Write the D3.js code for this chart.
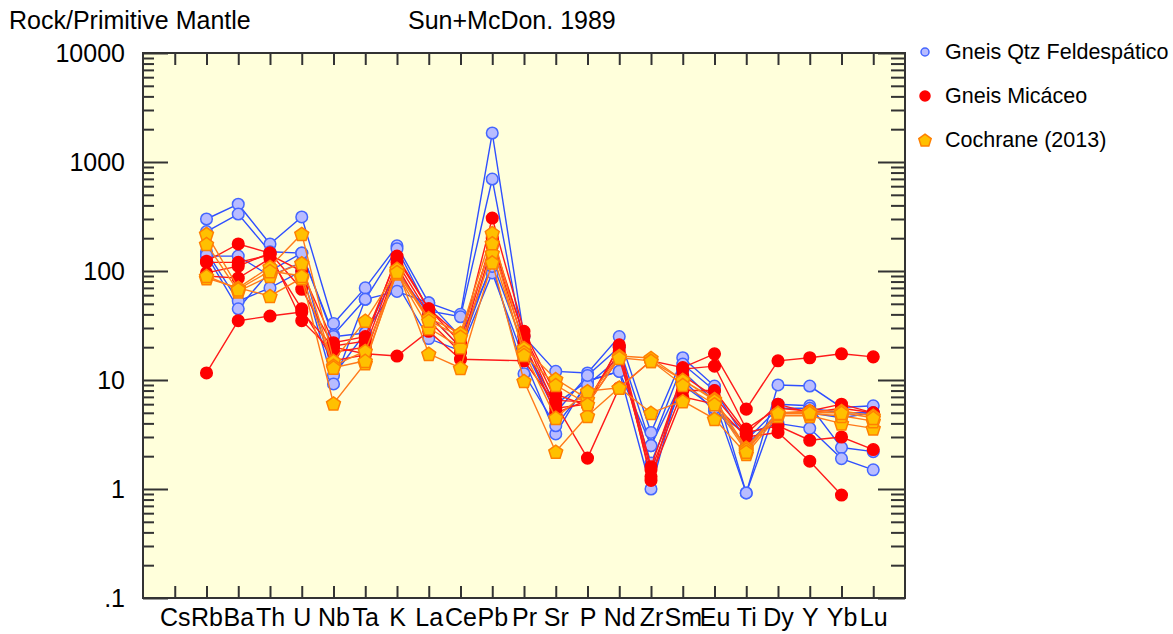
<!DOCTYPE html>
<html>
<head>
<meta charset="utf-8">
<script src="https://cdn.jsdelivr.net/npm/d3@7"></script>
<style>
  body { margin: 0; background: #fff; }
  text { font-family: "Liberation Sans", Arial, sans-serif; fill: #000; }
</style>
</head>
<body>
<svg id="chart" width="1173" height="634"></svg>
<script>
// element order of the spider diagram (Cs has no data)
var elements = ["Cs","Rb","Ba","Th","U","Nb","Ta","K","La","Ce","Pb","Pr","Sr","P","Nd","Zr","Sm","Eu","Ti","Dy","Y","Yb","Lu"];
var yTickValues = [0.1, 1, 10, 100, 1000, 10000];
var yTickLabels = [".1", "1", "10", "100", "1000", "10000"];

// Gneis Qtz Feldespático
var gneisQtz = [
  [null, 300, 410, 177, 313, 33, 70, 170, 51, 40, 1845, 25, 12, 11.6, 25, 3.3, 16, 8.8, 0.92, 9, 8.8, 5.6, 5.8],
  [null, 230, 333, 150, 146, 26, 55, 160, 43, 38, 698, 20, 6, 9.8, 12, 1.0, 12, 6.4, 0.92, 6, 5.8, 2.4, 2.2],
  [null, 137, 137, 90, 120, 11, 27, 76, 24, 18.5, 96, 15.5, 3.2, 9.8, 12, 2.5, 10, 5.2, 3.2, 4.0, 3.6, 1.9, 1.5],
  [null, 150, 53, 70, 100, 9.2, 55, 65, 51, 25, 110, 11.4, 3.8, 9, 16, 1.73, 9, 5.5, 2.5, 5, 5, 4.5, 5],
  [null, 140, 45, 100, 146, 25, 27, 100, 40, 20, 120, 20, 5, 11, 20, 2.5, 14, 8, 2.8, 5.5, 5.5, 5, 5]
];

// Gneis Micáceo
var gneisMic = [
  [null, 11.6, 35, 38.6, 42, 20, 17.4, 16.6, 28, 15.5, null, 15, 6, 1.92, 8.5, 15, 13, 17.4, 5.4, 15, 16, 17.4, 16.3],
  [null, 123, 177, 146, 68, 20.5, 22.7, 137, 45, 22, 306, 28, 7.4, 5.8, 21, 1.2, 12.6, 13.4, 3.55, 5.5, 5.2, 6, 5],
  [null, 96, 111, 146, 35, 18, 20, 120, 40, 20, 200, 25, 5.5, 6, 16, 1.5, 8, 8, 3.3, 3.8, 2.8, 3.0, 2.3],
  [null, 90, 86, 130, 45, 15, 17, 110, 35, 18, 170, 22, 5, 6.5, 18, 1.3, 7, 6, 3.0, 3.3, 1.8, 0.88, null],
  [null, 120, 120, 140, 100, 22, 25, 130, 45, 25, 180, 26, 6.5, 6.3, 20, 1.6, 11, 7, 3.2, 6, 5, 5.5, 5]
];

// Cochrane (2013)
var cochrane = [
  [null, 219, 70, 109, 219, 15, 35, 100, 37, 27, 223, 19.7, 10.2, 6.7, 16.6, 15.9, 10, 6.7, 2.4, 5, 5.2, 5.2, 4.7],
  [null, 177, 65, 90, 118, 13.5, 18.5, 95, 30, 20, 146, 18, 4.5, 7.9, 8.5, 5.0, 6.4, 4.4, 2.1, 4.7, 4.7, 4.0, 3.6],
  [null, 86, 70, 59, 86, 6.1, 14.3, 105, 17.4, 12.9, 120, 9.8, 2.2, 4.7, 8.5, 15, 10, 6.5, 2.3, 4.9, 4.9, 4.7, 4.2],
  [null, 90, 68, 100, 90, 13, 15, 98, 35, 25, 180, 17, 9, 6, 16, 15, 9, 6, 2.2, 5, 5, 5, 4.5]
];

var seriesNames = ["Gneis Qtz Feldespático", "Gneis Micáceo", "Cochrane (2013)"];

var svg = d3.select("#chart");
var plotLeft = 143, plotRight = 905, plotTop = 53, plotBottom = 598;

var x = d3.scalePoint().domain(elements).range([plotLeft, plotRight]).padding(1);
var y = d3.scaleLog().domain([0.1, 10000]).range([plotBottom, plotTop]);

var styles = [
  {line: "#2f4fff", fill: "#b8bcff", stroke: "#4466ff", shape: "circle"},
  {line: "#ff1a1a", fill: "#ff0000", stroke: "#ff0000", shape: "circle"},
  {line: "#ff7a1a", fill: "#ffc000", stroke: "#ff8000", shape: "pentagon"}
];

// plot background
svg.append("rect")
  .attr("x", plotLeft).attr("y", plotTop)
  .attr("width", plotRight - plotLeft).attr("height", plotBottom - plotTop)
  .style("fill", "#ffffdb");

// titles
svg.append("text").attr("x", 9).attr("y", 29).style("font-size", "25px").text("Rock/Primitive Mantle");
svg.append("text").attr("x", 408).attr("y", 29).style("font-size", "25px").text("Sun+McDon. 1989");

/*
pentagon path centred at 0,0 with radius r
*/
function pentagon(r){
  var pts = d3.range(5).map(function(i){
    var a = -Math.PI/2 + i*2*Math.PI/5;
    return [r*Math.cos(a), r*Math.sin(a) + r*0.1];
  });
  return "M" + pts.join("L") + "Z";
}

function drawMarker(g, style, cx, cy, r){
  if(style.shape == "circle"){
    g.append("circle").attr("cx", cx).attr("cy", cy).attr("r", r)
      .style("fill", style.fill).style("stroke", style.stroke).style("stroke-width", 1.5);
  } else {
    g.append("path").attr("d", pentagon(r + 1.5))
      .attr("transform", "translate(" + cx + "," + cy + ")")
      .style("fill", style.fill).style("stroke", style.stroke).style("stroke-width", 1.5);
  }
}

var line = d3.line()
  .x(function(d){ return x(d.el); })
  .y(function(d){ return y(d.v); });

var plot = svg.append("g");
[gneisQtz, gneisMic, cochrane].forEach(function(samples, si){
  var st = styles[si];
  samples.forEach(function(vals){
    var pts = vals.map(function(v, i){ return {el: elements[i], v: v}; })
      .filter(function(d){ return d.v != null; });
    plot.append("path").attr("d", line(pts))
      .style("fill", "none").style("stroke", st.line).style("stroke-width", 1.4);
  });
  samples.forEach(function(vals){
    vals.forEach(function(v, i){
      if(v == null) return;
      drawMarker(plot, st, x(elements[i]), y(v), 5.8);
    });
  });
});

// ticks on all four sides, pointing inwards
var minor = y.ticks().filter(function(t){ return yTickValues.indexOf(t) < 0; });
var axisColor = "#333";

svg.append("g").attr("transform", "translate(0," + plotTop + ")")
  .call(d3.axisBottom(x).tickSize(12).tickFormat(""));
svg.append("g").attr("transform", "translate(0," + plotBottom + ")")
  .call(d3.axisTop(x).tickSize(12).tickFormat(""));
svg.append("g").attr("transform", "translate(0," + plotBottom + ")")
  .call(d3.axisBottom(x).tickSize(0).tickPadding(10))
  .call(function(g){ g.select(".domain").remove(); })
  .selectAll("text").style("font-size", "25px").attr("fill", "#000");

svg.append("g").attr("transform", "translate(" + plotLeft + ",0)")
  .call(d3.axisRight(y).tickValues(yTickValues).tickSize(25).tickFormat(""));
svg.append("g").attr("transform", "translate(" + plotLeft + ",0)")
  .call(d3.axisRight(y).tickValues(minor).tickSize(11).tickFormat(""));
svg.append("g").attr("transform", "translate(" + plotRight + ",0)")
  .call(d3.axisLeft(y).tickValues(yTickValues).tickSize(27).tickFormat(""));
svg.append("g").attr("transform", "translate(" + plotRight + ",0)")
  .call(d3.axisLeft(y).tickValues(minor).tickSize(14).tickFormat(""));

svg.append("g").attr("transform", "translate(" + plotLeft + ",0)")
  .call(d3.axisLeft(y).tickValues(yTickValues).tickSize(0).tickPadding(18)
    .tickFormat(function(d, i){ return yTickLabels[i]; }))
  .call(function(g){ g.select(".domain").remove(); })
  .selectAll("text").style("font-size", "25px").attr("fill", "#000");

svg.selectAll(".tick line").style("stroke", axisColor).style("stroke-width", 2);
svg.selectAll(".domain").style("stroke", "none");

// frame
svg.append("rect")
  .attr("x", plotLeft).attr("y", plotTop)
  .attr("width", plotRight - plotLeft).attr("height", plotBottom - plotTop)
  .style("fill", "none").style("stroke", axisColor).style("stroke-width", 2);

// legend
var legend = svg.append("g");
seriesNames.forEach(function(name, i){
  var ly = 52 + i*44;
  drawMarker(legend, styles[i], 925, ly, i == 0 ? 4 : 5);
  legend.append("text").attr("x", 945).attr("y", ly + 7)
    .style("font-size", "21.5px").text(name);
});
</script>
</body>
</html>
